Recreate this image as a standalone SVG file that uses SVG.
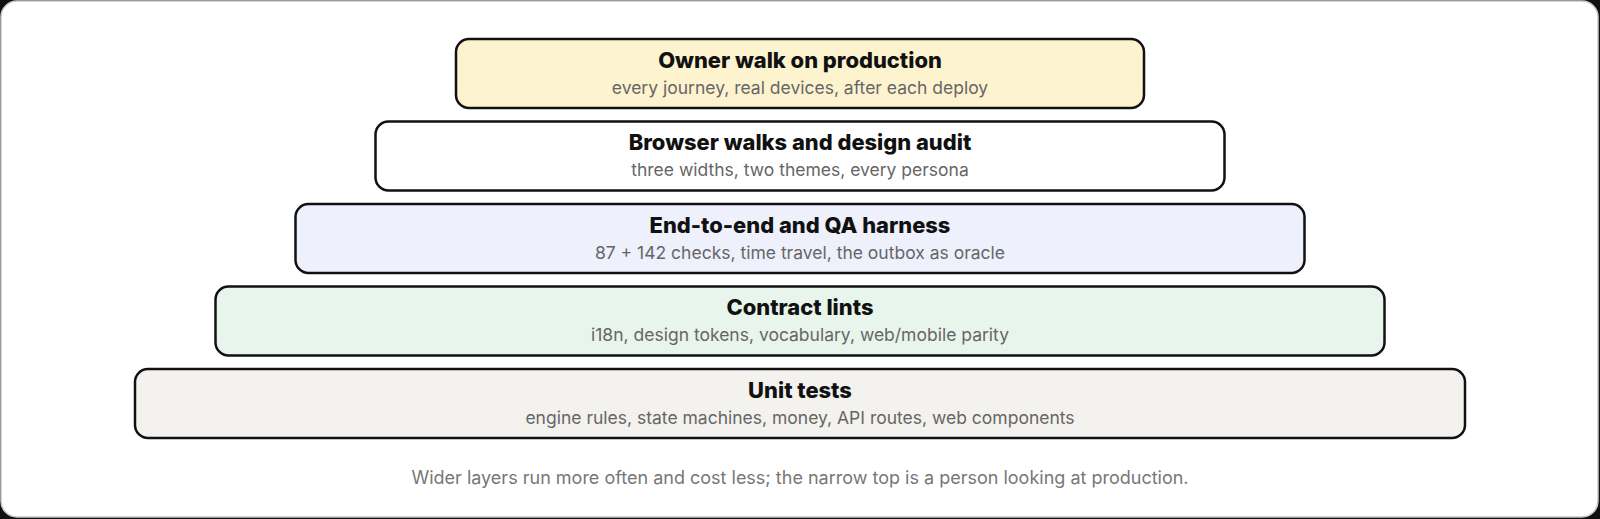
<svg xmlns="http://www.w3.org/2000/svg" width="1600" height="519" viewBox="0 0 1600 519">
<style>
.box{stroke:#111;stroke-width:2.5}
.t{font-family:Inter,"Liberation Sans",sans-serif;font-weight:800;font-size:21.9px;fill:#111;text-anchor:middle}
.s{font-family:Inter,"Liberation Sans",sans-serif;font-weight:400;font-size:17.5px;fill:#666;text-anchor:middle}
.f{font-family:Inter,"Liberation Sans",sans-serif;font-weight:400;font-size:18px;fill:#777;text-anchor:middle}
</style>
<rect x="0" y="0" width="1600" height="519" fill="#111"/>
<rect x="1" y="1" width="1597" height="516" rx="16" fill="#fff" stroke="#c8c8c8" stroke-width="1.5"/>
<g id="owner-walk">
<rect class="box" x="456" y="39" width="688" height="69" rx="13" fill="#fdf3cf"/>
<text class="t" x="800" y="67.5">Owner walk on production</text>
<text class="s" x="800" y="93.5">every journey, real devices, after each deploy</text>
</g>
<g id="browser-walks">
<rect class="box" x="375.5" y="121.5" width="849" height="69" rx="13" fill="#ffffff"/>
<text class="t" x="800" y="150">Browser walks and design audit</text>
<text class="s" x="800" y="176">three widths, two themes, every persona</text>
</g>
<g id="e2e">
<rect class="box" x="295.5" y="204" width="1009" height="69" rx="13" fill="#eef0fc"/>
<text class="t" x="800" y="232.5">End-to-end and QA harness</text>
<text class="s" x="800" y="258.5">87 + 142 checks, time travel, the outbox as oracle</text>
</g>
<g id="contract-lints">
<rect class="box" x="215.5" y="286.5" width="1169" height="69" rx="13" fill="#e8f5ec"/>
<text class="t" x="800" y="315">Contract lints</text>
<text class="s" x="800" y="341">i18n, design tokens, vocabulary, web/mobile parity</text>
</g>
<g id="unit-tests">
<rect class="box" x="135" y="369" width="1330" height="69" rx="13" fill="#f3f2ef"/>
<text class="t" x="800" y="397.5">Unit tests</text>
<text class="s" x="800" y="423.5">engine rules, state machines, money, API routes, web components</text>
</g>
<g id="connectors"></g>
<text class="f" x="800" y="483.5">Wider layers run more often and cost less; the narrow top is a person looking at production.</text>
</svg>
